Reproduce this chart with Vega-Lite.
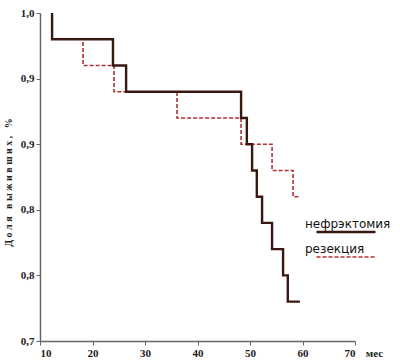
{
  "$schema": "https://vega.github.io/schema/vega-lite/v6.json",
  "width": 315,
  "height": 328,
  "autosize": {"type": "none"},
  "padding": {"left": 40, "top": 13, "right": 45, "bottom": 22},
  "background": "white",
  "config": {"view": {"stroke": null}},
  "data": {
    "values": [
      {"group": "нефрэктомия", "month": 12.3, "surv": 1.0},
      {"group": "нефрэктомия", "month": 12.3, "surv": 0.976},
      {"group": "нефрэктомия", "month": 23.9, "surv": 0.952},
      {"group": "нефрэктомия", "month": 26.4, "surv": 0.928},
      {"group": "нефрэктомия", "month": 48.3, "surv": 0.904},
      {"group": "нефрэктомия", "month": 49.4, "surv": 0.880},
      {"group": "нефрэктомия", "month": 50.4, "surv": 0.856},
      {"group": "нефрэктомия", "month": 51.3, "surv": 0.832},
      {"group": "нефрэктомия", "month": 52.3, "surv": 0.808},
      {"group": "нефрэктомия", "month": 54.2, "surv": 0.784},
      {"group": "нефрэктомия", "month": 56.3, "surv": 0.760},
      {"group": "нефрэктомия", "month": 57.2, "surv": 0.736},
      {"group": "нефрэктомия", "month": 59.5, "surv": 0.736},
      {"group": "резекция", "month": 12.3, "surv": 1.0},
      {"group": "резекция", "month": 12.3, "surv": 0.976},
      {"group": "резекция", "month": 18.2, "surv": 0.952},
      {"group": "резекция", "month": 24.1, "surv": 0.928},
      {"group": "резекция", "month": 36.1, "surv": 0.904},
      {"group": "резекция", "month": 48.3, "surv": 0.880},
      {"group": "резекция", "month": 54.2, "surv": 0.856},
      {"group": "резекция", "month": 58.2, "surv": 0.832},
      {"group": "резекция", "month": 59.5, "surv": 0.832}
    ]
  },
  "encoding": {
    "x": {
      "field": "month", "type": "quantitative",
      "scale": {"domain": [10, 70], "nice": false, "zero": false},
      "axis": {
        "values": [10, 20, 30, 40, 50, 60, 70],
        "grid": false,
        "title": "мес",
        "titleX": 334, "titleY": 15, "titleAlign": "center", "titleBaseline": "alphabetic",
        "titleFont": "Liberation Serif", "titleFontSize": 11, "titleFontWeight": "bold", "titleColor": "#222",
        "labelFont": "Liberation Serif", "labelFontSize": 11, "labelFontWeight": "bold", "labelColor": "#222",
        "labelPadding": 2, "tickSize": 4, "tickColor": "#666", "domainColor": "#666", "domainWidth": 1.5
      }
    },
    "y": {
      "field": "surv", "type": "quantitative",
      "scale": {"domain": [0.7, 1.0], "nice": false, "zero": false},
      "axis": {
        "values": [0.7, 0.76, 0.82, 0.88, 0.94, 1.0],
        "labelExpr": "replace(format(datum.value, '.1f'), '.', ',')",
        "grid": false,
        "title": "Д\u00a0о\u00a0л\u00a0я\u00a0\u00a0\u00a0в\u00a0ы\u00a0ж\u00a0и\u00a0в\u00a0ш\u00a0и\u00a0х\u00a0,\u00a0\u00a0\u00a0%",
        "titleX": -27, "titleY": 169, "titleAngle": -90, "titleAlign": "center", "titleBaseline": "bottom",
        "titleFont": "Liberation Serif", "titleFontSize": 10, "titleFontWeight": "bold", "titleColor": "#222",
        "labelFont": "Liberation Serif", "labelFontSize": 11, "labelFontWeight": "bold", "labelColor": "#222",
        "labelPadding": 2, "tickSize": 4, "tickColor": "#666", "domainColor": "#666", "domainWidth": 1.5
      }
    },
    "color": {
      "field": "group", "type": "nominal",
      "scale": {"domain": ["нефрэктомия", "резекция"], "range": ["#3a1812", "#b03030"]},
      "legend": {
        "title": null, "orient": "none", "legendX": 275, "legendY": 208,
        "symbolType": "stroke", "symbolSize": 3481, "symbolStrokeWidth": 2,
        "labelFont": "DejaVu Sans", "labelFontSize": 12, "labelColor": "#111",
        "labelBaseline": "line-bottom", "labelLineHeight": 23, "labelOffset": -72,
        "clipHeight": 22, "rowPadding": 0, "padding": 0
      }
    },
    "strokeDash": {
      "field": "group", "type": "nominal",
      "scale": {"domain": ["нефрэктомия", "резекция"], "range": [[1, 0], [4, 2]]},
      "legend": {
        "title": null, "orient": "none", "legendX": 275, "legendY": 208,
        "symbolType": "stroke", "symbolSize": 3481, "symbolStrokeWidth": 2,
        "labelFont": "DejaVu Sans", "labelFontSize": 12, "labelColor": "#111",
        "labelBaseline": "line-bottom", "labelLineHeight": 23, "labelOffset": -72,
        "clipHeight": 22, "rowPadding": 0, "padding": 0
      }
    },
    "strokeWidth": {
      "field": "group", "type": "nominal",
      "scale": {"domain": ["нефрэктомия", "резекция"], "range": [2.4, 1.6]},
      "legend": {
        "title": null, "orient": "none", "legendX": 275, "legendY": 208,
        "symbolType": "stroke", "symbolSize": 3481,
        "labelFont": "DejaVu Sans", "labelFontSize": 12, "labelColor": "#111",
        "labelBaseline": "line-bottom", "labelLineHeight": 23, "labelOffset": -72,
        "clipHeight": 22, "rowPadding": 0, "padding": 0
      }
    }
  },
  "layer": [
    {
      "transform": [{"filter": "datum.group == 'резекция'"}],
      "mark": {"type": "line", "interpolate": "step-after"}
    },
    {
      "transform": [{"filter": "datum.group == 'нефрэктомия'"}],
      "mark": {"type": "line", "interpolate": "step-after"}
    }
  ]
}
